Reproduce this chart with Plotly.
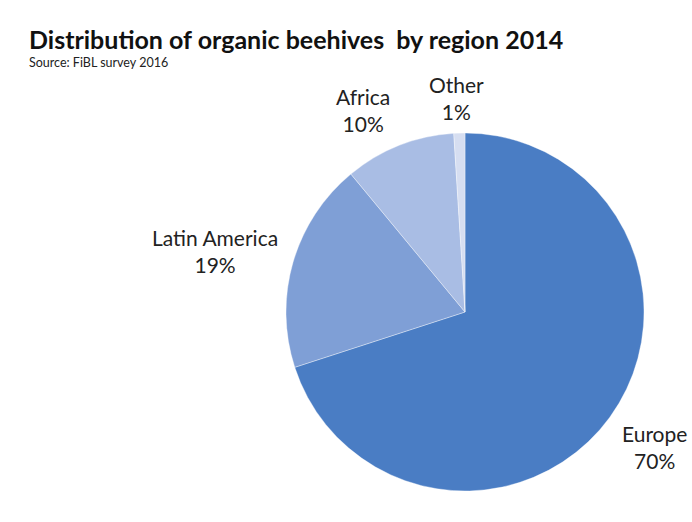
import plotly.graph_objects as go

regions = ["Europe", "Latin America", "Africa", "Other"]
shares = [70, 19, 10, 1]
colors = ["#4a7dc4", "#7f9fd6", "#a9bde4", "#d6def1"]

W, H = 692, 522
cx, cy, r = 465, 312, 179

# label centres (pixel positions) for each slice label
label_pos = [(654, 447), (215, 251), (363, 110), (456, 98)]

fig = go.Figure(go.Pie(
    labels=regions,
    values=shares,
    sort=False,
    direction="clockwise",
    rotation=0,
    marker=dict(colors=colors, line=dict(color="rgba(255,255,255,0.6)", width=0.6)),
    textinfo="none",
    showlegend=False,
    hoverinfo="label+percent",
    domain=dict(x=[(cx - r) / W, (cx + r) / W], y=[(H - cy - r) / H, (H - cy + r) / H]),
    automargin=False,
))

annotations = [
    dict(text="<b>Distribution of organic beehives  by region 2014</b>",
         x=27 / W, y=1 - 39 / H, xref="paper", yref="paper",
         xanchor="left", yanchor="middle", showarrow=False,
         font=dict(family="Lato, Open Sans, sans-serif", size=25, color="#111111")),
    dict(text="Source: FiBL survey 2016",
         x=27 / W, y=1 - 62 / H, xref="paper", yref="paper",
         xanchor="left", yanchor="middle", showarrow=False,
         font=dict(family="Lato, Open Sans, sans-serif", size=12.5, color="#222222")),
]
for name, val, (px, py) in zip(regions, shares, label_pos):
    annotations.append(dict(
        text=f"{name}<br>{val}%", x=px / W, y=1 - py / H,
        xref="paper", yref="paper", xanchor="center", yanchor="middle",
        showarrow=False, align="center",
        font=dict(family="Lato, Open Sans, sans-serif", size=21, color="#222222"),
    ))

fig.update_layout(
    width=W, height=H,
    margin=dict(l=0, r=0, t=0, b=0),
    paper_bgcolor="white",
    plot_bgcolor="white",
    annotations=annotations,
)

fig.write_html("out.html")
